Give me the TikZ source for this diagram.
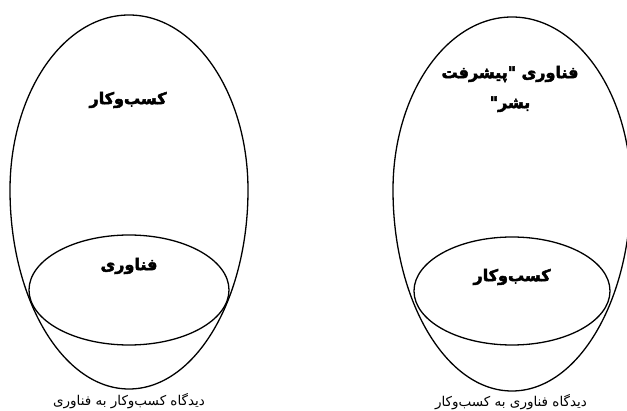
\documentclass[tikz,border=0pt]{standalone}
\usepackage{fontspec}
\newfontfamily\arabicfont[Script=Arabic]{DejaVu Sans}
\newfontfamily\arabicbold[Script=Arabic, FakeBold=3]{DejaVu Sans Bold}
\TeXXeTstate=1

\begin{document}
\begin{tikzpicture}[x=1pt, y=1pt, line width=1.3pt,
    titulo/.style={font=\arabicbold\fontsize{16}{30}\selectfont, align=center, inner sep=0pt},
    pie/.style={font=\arabicfont\fontsize{13.5}{15}\selectfont, inner sep=0pt}]

    \useasboundingbox (0,0) rectangle (627,410);

    % Huevo izquierdo
    \draw (10,220) arc[start angle=180, end angle=0, x radius=119, y radius=175]
        arc[start angle=0, end angle=-180, x radius=119, y radius=199];
    \draw (129,120) ellipse [x radius=100, y radius=55];

    % Huevo derecho
    \draw (393,220) arc[start angle=180, end angle=0, x radius=119, y radius=173]
        arc[start angle=0, end angle=-180, x radius=119, y radius=201];
    \draw (512,119) ellipse [x radius=98, y radius=54];

    % Textos
    \node[titulo] (negocio) at (128,310) {\beginR کسب^^^^200cوکار\endR};
    \node[titulo] (tecno) at (129,144) {\beginR فناوری\endR};
    \node[titulo] (progreso) at (510,321)
        {\beginR فناوری "\kern0pt پیشرفت\endR\\\beginR بشر\kern0pt"\endR};
    \node[titulo] (negocio2) at (512,133) {\beginR کسب^^^^200cوکار\endR};

    % Pies
    \node[pie] (pieizq) at (129,9) {\beginR دیدگاه کسب^^^^200cوکار به فناوری\endR};
    \node[pie] (pieder) at (511,8) {\beginR دیدگاه فناوری به کسب^^^^200cوکار\endR};

\end{tikzpicture}
\end{document}
